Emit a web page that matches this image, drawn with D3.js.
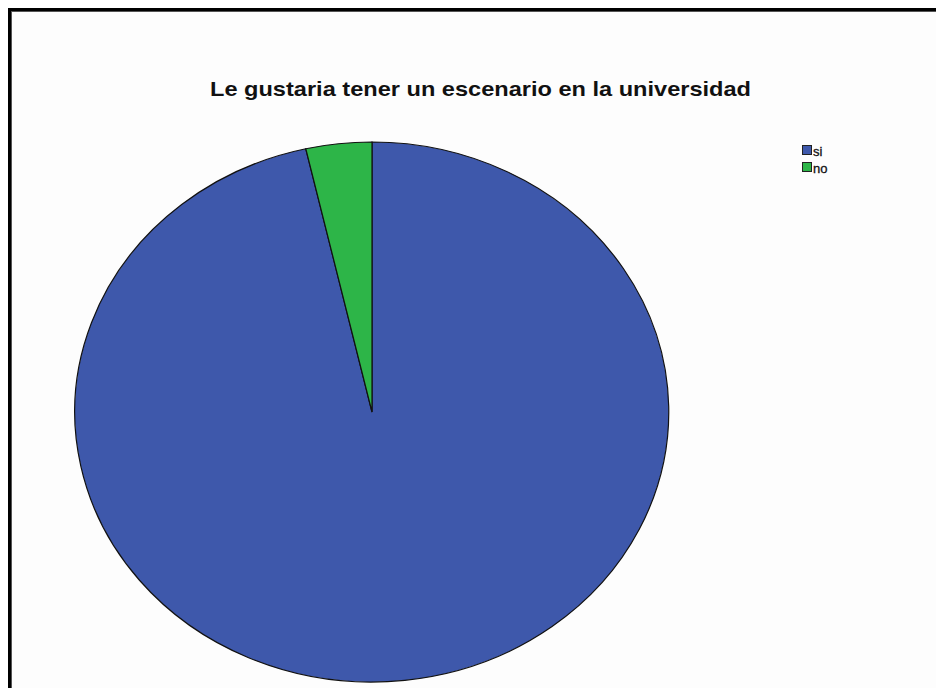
<!DOCTYPE html>
<html>
<head>
<meta charset="utf-8">
<script src="https://cdn.jsdelivr.net/npm/d3@7"></script>
<style>
  html, body { margin: 0; padding: 0; background: #ffffff; }
  svg { display: block; }
</style>
</head>
<body>
<svg id="chart" width="936" height="688"></svg>
<script>
// Survey answers
const categories = ["si", "no"];
const counts = [27, 1];
const colors = ["#3e58ab", "#2db548"];
const title = "Le gustaria tener un escenario en la universidad";

const svg = d3.select("#chart");

// Chart frame (runs off the right and bottom edges)
svg.append("rect")
  .attr("x", 9.5).attr("y", 9.5)
  .attr("width", 1000).attr("height", 1000)
  .attr("fill", "#fdfdfd")
  .attr("stroke", "#000").attr("stroke-width", 3);
svg.append("rect")
  .attr("x", 11.5).attr("y", 11.5)
  .attr("width", 1000).attr("height", 1000)
  .attr("fill", "none")
  .attr("stroke", "#555").attr("stroke-width", 1);

// Title
svg.append("text")
  .attr("x", 210).attr("y", 96)
  .attr("font-family", "Liberation Sans, Arial, sans-serif")
  .attr("font-weight", "bold")
  .attr("font-size", 20.5)
  .attr("textLength", 541)
  .attr("lengthAdjust", "spacingAndGlyphs")
  .attr("fill", "#111")
  .text(title);

// Elliptical pie: unit-radius arcs stretched to the ellipse
const cx = 372, cy = 412, rx = 297, ry = 270;
const data = categories.map((c, i) => ({ name: c, value: counts[i], color: colors[i] }));
const pie = d3.pie().sort(null).value(d => d.value);
const arc = d3.arc().innerRadius(0).outerRadius(1);

const g = svg.append("g")
  .attr("transform", `translate(${cx},${cy}) scale(${rx},${ry})`);
g.selectAll("path")
  .data(pie(data))
  .join("path")
  .attr("d", arc)
  .attr("fill", d => d.data.color)
  .attr("stroke", "#111")
  .attr("stroke-width", 1.2)
  .attr("vector-effect", "non-scaling-stroke");

// Legend
const legend = svg.append("g").attr("transform", "translate(802,145)");
const item = legend.selectAll("g")
  .data(data)
  .join("g")
  .attr("transform", (d, i) => `translate(0,${i * 17})`);
item.append("rect")
  .attr("x", 0.5).attr("y", 0.5)
  .attr("width", 9).attr("height", 9)
  .attr("fill", d => d.color)
  .attr("stroke", "#222").attr("stroke-width", 1);
item.append("text")
  .attr("x", 11).attr("y", 11)
  .attr("font-family", "Liberation Sans, Arial, sans-serif")
  .attr("font-size", 13)
  .attr("fill", "#111")
  .attr("stroke", "#111").attr("stroke-width", 0.3)
  .text(d => d.name);
</script>
</body>
</html>
